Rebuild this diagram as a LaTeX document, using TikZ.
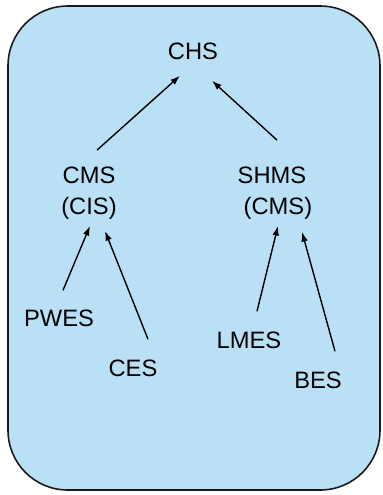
\documentclass[tikz,border=0pt]{standalone}
\usepackage{fontspec}
\setmainfont{Liberation Sans}
\usepackage{tikz}
\usetikzlibrary{positioning,calc}
\usetikzlibrary{arrows.meta}
\definecolor{boxblue}{RGB}{186,224,245}
\tikzset{
	sys/.style={inner sep=0pt,align=center,font=\fontsize{13.5}{18}\selectfont},
	arr/.style={line width=0.8pt,-{Latex[length=5.5pt,width=3.8pt]}}
}

\begin{document}
\begin{tikzpicture}[x=0.02cm,y=-0.02cm]
\useasboundingbox (0,0) rectangle (383,495);

%Cadre
\filldraw[fill=boxblue,draw=black!90,line width=0.9pt,rounded corners=34pt] (8,6) rectangle (380,490);

%Systemes
\node[sys] (chs) at (193,51) {CHS};
\node[sys] (cms) at (89,193) {CMS\\(CIS)};
\node[sys] (shms) at (272,193) {SHMS\\\hspace*{0.5em}(CMS)};
\node[sys] (pwes) at (59,318) {PWES};
\node[sys] (ces) at (133,368) {CES};
\node[sys] (lmes) at (249,340) {LMES};
\node[sys] (bes) at (318,380) {BES};

%Fleches
\draw[arr] ($(cms.north)+(8,-16)$) -- ($(chs.south)+(-13,16)$);
\draw[arr] ($(shms.north)+(5,-26)$) -- ($(chs.south)+(19,21)$);
\draw[arr] ($(pwes.north)+(4,-19)$) -- ($(cms.south)+(1,6)$);
\draw[arr] ($(ces.north)+(15,-20)$) -- ($(cms.south)+(16,11)$);
\draw[arr] ($(lmes.north)+(8,-20)$) -- ($(shms.south)+(6,6)$);
\draw[arr] ($(bes.north)+(17,-20)$) -- ($(shms.south)+(30,12)$);

\end{tikzpicture}
\end{document}
